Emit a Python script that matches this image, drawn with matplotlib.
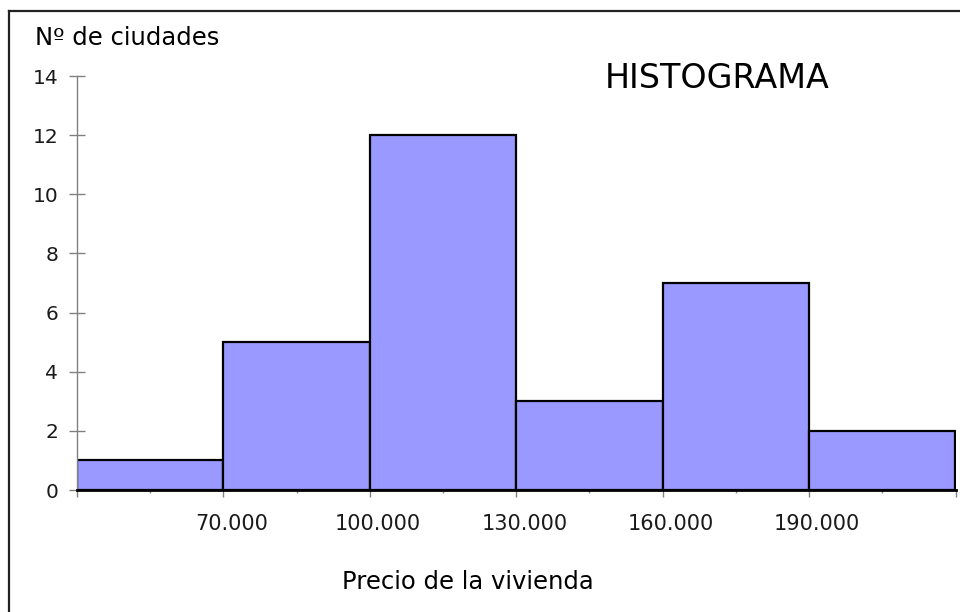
import matplotlib
matplotlib.use('Agg')
import matplotlib.pyplot as plt
import matplotlib.transforms as mtransforms
from matplotlib.lines import Line2D
from matplotlib.ticker import FixedLocator

# Bin edges (price of housing) and number of cities per bin
bin_edges = [40000, 70000, 100000, 130000, 160000, 190000, 220000]
counts = [1, 5, 12, 3, 7, 2]
y_ticks = [0, 2, 4, 6, 8, 10, 12, 14]


def fmt_es(v):
    return f'{v:,.0f}'.replace(',', '.')


fig = plt.figure(figsize=(9.6, 6.12), dpi=100)
ax = fig.add_axes([77 / 960, 122 / 612, 878.5 / 960, 414 / 612])

lefts = bin_edges[:-1]
widths = [b - a for a, b in zip(bin_edges[:-1], bin_edges[1:])]
ax.bar(lefts, counts, width=widths, align='edge', color='#9999ff',
       edgecolor='black', linewidth=1.6, zorder=2)

ax.set_xlim(bin_edges[0], bin_edges[-1])
ax.set_ylim(0, 14)

# x ticks at the bin edges, labels only on the inner ones
ax.set_xticks(bin_edges)
ax.set_xticklabels([''] + [fmt_es(v) for v in bin_edges[1:-1]] + [''])
mids = [(a + b) / 2 for a, b in zip(bin_edges[:-1], bin_edges[1:])]
ax.xaxis.set_minor_locator(FixedLocator(mids))
ax.tick_params(axis='x', which='major', direction='out', length=5, width=1,
               color='#808080', pad=12, labelsize=15, labelcolor='#1a1a1a')
ax.tick_params(axis='x', which='minor', direction='out', length=2, width=1,
               color='#888888')
# labels sit a little to the right of their ticks, as in the original
shift = mtransforms.ScaledTranslation(8 / 100, 0, fig.dpi_scale_trans)
for lab in ax.get_xticklabels():
    lab.set_transform(lab.get_transform() + shift)

ax.set_yticks(y_ticks)
ax.tick_params(axis='y', direction='inout', length=11, width=1,
               color='#808080', pad=8, labelsize=14.5, labelcolor='#1a1a1a')

for s in ('top', 'right'):
    ax.spines[s].set_visible(False)
ax.spines['left'].set_color('#808080')
ax.spines['left'].set_linewidth(1)
ax.spines['bottom'].set_color('black')
ax.spines['bottom'].set_linewidth(2)
ax.spines['bottom'].set_zorder(3)

fig.text(35 / 960, 1 - 38 / 612, 'Nº de ciudades', fontsize=17.5,
         va='center', ha='left')
fig.text(605 / 960, 1 - 79 / 612, 'HISTOGRAMA', fontsize=24,
         va='center', ha='left')
fig.text(342 / 960, 1 - 582 / 612, 'Precio de la vivienda', fontsize=17.5,
         va='center', ha='left')

# frame lines around the chart area (top and left)
fig.add_artist(Line2D([8.5 / 960, 1], [1 - 10.5 / 612, 1 - 10.5 / 612],
                      color='#222222', linewidth=1.6))
fig.add_artist(Line2D([8.5 / 960, 8.5 / 960], [0, 1 - 10.5 / 612],
                      color='#222222', linewidth=1.6))

fig.savefig('out.png', dpi=100)
